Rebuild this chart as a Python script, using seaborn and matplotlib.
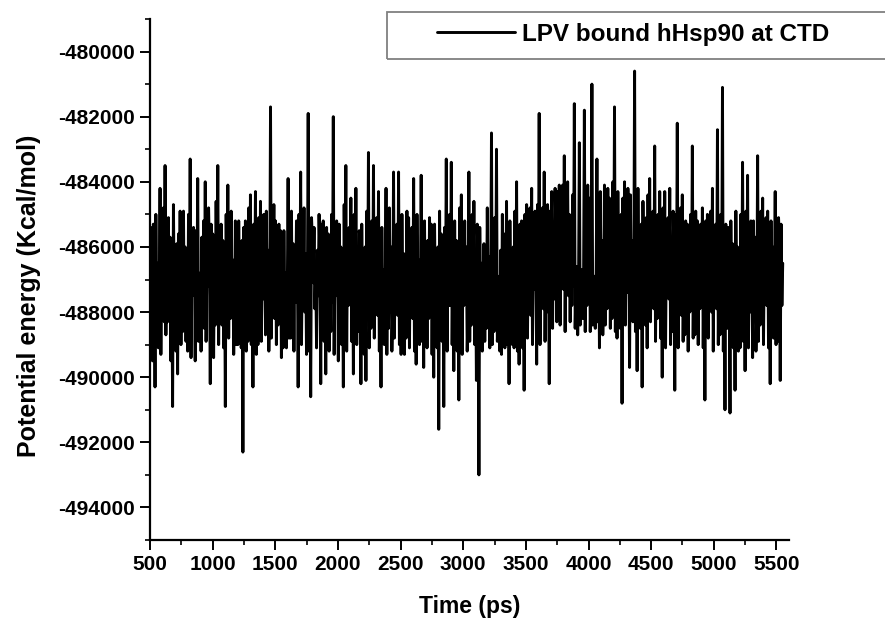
import numpy as np
import pandas as pd
import matplotlib
matplotlib.use("Agg")
import matplotlib.pyplot as plt
import matplotlib.patches as patches
from matplotlib.ticker import MultipleLocator, StrMethodFormatter
import seaborn as sns

# Data (potential energy every ~6.7 ps from 500 to 5550 ps)
energy = [
    -487800, -485400, -486000, -489500, -485300, -485900, -490300, -485000, -487900,
    -486500, -489100, -487700, -484200, -489300, -486200, -487800, -484800, -488300,
    -483500, -488700, -486500, -488300, -485100, -488100, -485700, -489500, -486300,
    -490900, -484700, -487700, -486200, -489200, -485900, -489900, -485600, -488000,
    -484900, -489000, -486100, -488600, -484900, -488500, -486000, -488900, -486300,
    -489200, -485000, -487900, -483300, -489400, -485800, -487500, -485400, -485900,
    -489500, -485500, -487800, -483900, -488900, -487600, -486800, -489200, -485700,
    -488300, -485200, -488500, -484000, -488900, -486400, -487200, -484800, -486200,
    -490200, -485300, -488100, -485600, -489400, -486300, -488400, -484600, -487800,
    -483500, -489000, -486000, -487800, -485300, -488400, -485800, -489100, -485900,
    -490900, -485000, -488200, -484100, -488800, -486100, -488200, -484900, -488000,
    -486400, -489300, -487800, -485200, -489000, -486300, -489000, -485200, -487700,
    -486300, -489100, -485800, -492300, -485400, -488000, -485200, -489200, -486200,
    -488900, -484800, -488400, -484400, -489000, -486000, -490300, -485300, -487600,
    -484300, -489300, -485700, -489000, -485100, -488300, -484600, -488900, -486400,
    -487600, -485000, -486200, -488700, -484900, -488100, -486100, -489200, -487700,
    -481700, -488800, -486300, -487300, -484700, -488200, -485200, -489000, -486100,
    -488400, -485300, -487800, -485500, -489400, -485900, -489100, -485500, -488000,
    -486800, -489100, -487600, -483900, -488800, -486200, -488800, -484900, -488400,
    -485900, -489200, -486000, -487700, -485200, -485700, -490300, -485000, -487800,
    -483700, -489000, -486400, -487400, -484800, -488000, -486200, -489300, -487700,
    -481900, -489200, -486200, -490600, -485100, -485800, -487100, -485400, -487900,
    -486700, -489100, -486100, -487500, -485000, -486400, -490200, -485300, -488000,
    -485200, -488900, -486000, -489900, -485400, -488200, -485600, -489200, -485800,
    -488600, -485000, -487700, -482000, -489300, -486300, -487500, -485200, -485900,
    -489500, -485300, -488100, -486000, -489000, -486400, -490300, -484700, -488000,
    -483500, -489200, -486100, -487800, -485400, -487600, -484500, -488900, -485900,
    -489900, -485000, -488400, -484200, -489000, -486200, -488600, -485500, -485800,
    -490200, -485300, -488000, -486500, -489300, -486000, -490100, -484900, -487900,
    -483100, -489100, -486300, -488500, -485200, -488300, -483500, -488800, -485700,
    -487600, -485100, -488100, -484300, -489200, -486400, -490300, -485400, -487800,
    -486700, -489000, -487600, -484200, -489300, -486000, -488500, -484800, -488000,
    -486000, -489200, -487900, -483700, -488800, -486200, -487900, -485300, -488100,
    -483700, -489000, -485900, -489300, -485000, -487800, -486200, -489300, -486300,
    -488800, -484900, -488000, -485100, -489100, -486000, -487600, -485400, -488200,
    -483900, -489200, -486200, -489600, -485000, -487700, -486400, -489000, -487800,
    -483800, -488900, -486100, -489700, -485200, -488400, -486000, -489100, -485800,
    -488200, -485100, -488000, -485300, -489300, -486400, -490000, -485300, -487900,
    -486600, -489100, -486000, -491600, -484900, -488100, -485600, -488900, -486200,
    -490900, -485400, -488000, -483300, -489200, -485900, -487800, -485000, -487800,
    -483400, -489000, -486300, -489800, -485200, -488300, -485800, -489200, -486100,
    -490700, -484800, -488000, -484400, -489300, -486400, -487800, -485200, -487700,
    -486000, -489200, -487900, -483700, -488900, -486000, -488400, -485000, -488200,
    -484600, -489000, -486300, -490100, -485300, -486800, -493000, -485400, -488000,
    -486500, -489200, -487700, -485900, -488900, -486000, -488500, -484800, -487900,
    -486300, -489100, -487600, -482500, -489000, -486200, -488600, -485100, -488300,
    -483000, -488900, -488100, -486900, -489200, -486100, -489300, -485000, -487700,
    -485600, -489100, -487800, -484600, -489000, -486300, -490200, -485200, -488000,
    -486300, -489000, -486000, -489100, -484900, -488200, -484000, -489200, -486200,
    -489600, -485300, -487800, -485200, -489100, -485900, -490400, -485000, -488000,
    -484700, -488800, -486100, -488000, -484800, -488100, -484200, -489000, -486000,
    -487300, -484900, -486300, -489600, -484700, -487700, -481900, -489000, -485800,
    -487400, -484800, -487900, -483700, -488900, -486000, -488000, -484700, -485400,
    -490200, -484900, -487600, -484300, -488500, -485300, -487600, -484200, -485600,
    -488300, -484300, -487400, -484100, -488400, -485500, -487000, -484100, -487300,
    -483200, -488600, -485400, -487200, -484000, -487500, -485000, -488300, -485200,
    -487800, -484400, -487200, -481600, -488500, -487100, -486600, -488700, -487300,
    -482800, -488400, -487800, -486700, -488200, -487200, -481800, -488600, -485300,
    -487800, -484100, -487400, -484500, -488600, -487000, -481000, -488400, -487300,
    -486900, -488500, -487100, -483300, -488300, -485500, -489100, -484300, -487600,
    -485800, -488700, -487300, -484100, -488400, -485400, -487900, -484200, -487700,
    -484500, -488500, -485300, -488200, -484000, -487400, -481700, -488600, -485600,
    -488800, -484300, -487300, -485700, -488500, -485000, -490800, -484500, -487500,
    -484000, -488400, -485300, -487400, -484200, -485500, -489700, -484400, -487800,
    -485800, -488300, -487200, -480600, -488600, -485400, -489800, -484200, -487600,
    -486100, -488500, -485300, -490300, -484600, -487400, -485400, -488400, -485100,
    -489100, -484400, -487700, -483900, -488300, -485600, -487600, -484900, -487900,
    -482900, -488900, -486000, -488200, -485000, -487800, -484300, -488800, -486100,
    -490000, -484800, -488000, -484300, -489100, -485800, -487500, -485100, -487600,
    -484200, -489000, -486200, -488600, -484900, -486100, -490400, -485000, -487800,
    -482200, -489100, -486000, -487500, -484800, -488100, -484400, -488900, -486300,
    -488700, -485200, -487700, -485300, -489200, -485900, -488000, -485000, -487900,
    -482900, -488800, -486200, -488700, -484900, -488000, -485200, -489000, -486000,
    -487900, -485300, -487800, -484800, -489100, -485900, -490700, -485200, -488200,
    -485000, -488800, -486300, -487600, -484900, -488000, -484200, -489200, -486000,
    -487800, -485300, -487900, -482400, -489000, -485800, -488700, -485000, -487700,
    -481100, -489200, -486200, -491000, -485300, -486700, -488500, -485400, -486900,
    -491100, -485200, -488000, -485900, -489100, -486200, -490400, -484900, -487800,
    -486000, -489200, -486400, -489100, -485000, -488000, -483400, -488900, -486100,
    -489800, -484900, -488200, -483800, -489100, -486300, -488000, -485200, -485900,
    -489400, -485200, -487700, -485700, -489200, -487900, -483200, -488900, -486000,
    -488400, -484900, -488100, -484500, -489000, -486200, -487700, -485100, -487800,
    -484900, -489100, -485900, -490200, -485200, -488000, -486000, -488800, -487600,
    -484300, -489000, -486100, -488900, -485100, -485800, -490100, -485300, -487800,
    -486500,
]
time = np.linspace(500, 5550, len(energy))

x_ticks = [500, 1000, 1500, 2000, 2500, 3000, 3500, 4000, 4500, 5000, 5500]
y_ticks = [-494000, -492000, -490000, -488000, -486000, -484000, -482000, -480000]
series_name = "LPV bound hHsp90 at CTD"

df = pd.DataFrame({"Time (ps)": time, "energy": energy})

# Plot
sns.set_theme(style="ticks")
plt.rcParams["font.family"] = ["Liberation Sans", "DejaVu Sans"]
plt.rcParams["font.weight"] = "bold"
plt.rcParams["axes.unicode_minus"] = False
plt.rcParams["text.color"] = "black"

fig = plt.figure(figsize=(8.85, 6.26), dpi=100)
ax = fig.add_axes([150 / 885, 86 / 626, 639 / 885, 521 / 626])

sns.lineplot(data=df, x="Time (ps)", y="energy", color="black", linewidth=2.1,
             label=series_name, ax=ax)

# Decorations
ax.set_xlim(500, 5600)
ax.set_ylim(-495000, -479000)
ax.set_xticks(x_ticks)
ax.set_yticks(y_ticks)
ax.xaxis.set_minor_locator(MultipleLocator(250))
ax.yaxis.set_minor_locator(MultipleLocator(1000))
ax.yaxis.set_major_formatter(StrMethodFormatter("{x:.0f}"))
ax.tick_params(axis="both", which="major", length=7, width=1.4, direction="out",
               labelsize=15, pad=4, colors="black")
ax.tick_params(axis="both", which="minor", length=3.5, width=1.4, direction="out")
for lab in ax.get_xticklabels() + ax.get_yticklabels():
    lab.set_fontweight("bold")

sns.despine(ax=ax)
for s in ("left", "bottom"):
    ax.spines[s].set_linewidth(1.6)
    ax.spines[s].set_color("black")

ax.set_xlabel("Time (ps)", fontsize=16.5, fontweight="bold", color="black")
ax.set_ylabel("Potential energy (Kcal/mol)", fontsize=18, fontweight="bold", color="black")
ax.xaxis.set_label_coords(0.5, -0.106)
ax.yaxis.set_label_coords(-0.171, 0.468)

leg = ax.legend(loc="center left", bbox_to_anchor=(437 / 885, 1 - 34 / 626),
                bbox_transform=fig.transFigure, frameon=False, borderpad=0,
                borderaxespad=0, handlelength=3.2, handletextpad=0.3,
                prop={"size": 17.5, "weight": "bold"}, labelcolor="black")
fig.patches.append(patches.Rectangle((387 / 885, 1 - 59 / 626), 520 / 885, 47 / 626,
                                     transform=fig.transFigure, fill=False,
                                     edgecolor="#808080", linewidth=1.3))

fig.savefig("out.png", dpi=100)
